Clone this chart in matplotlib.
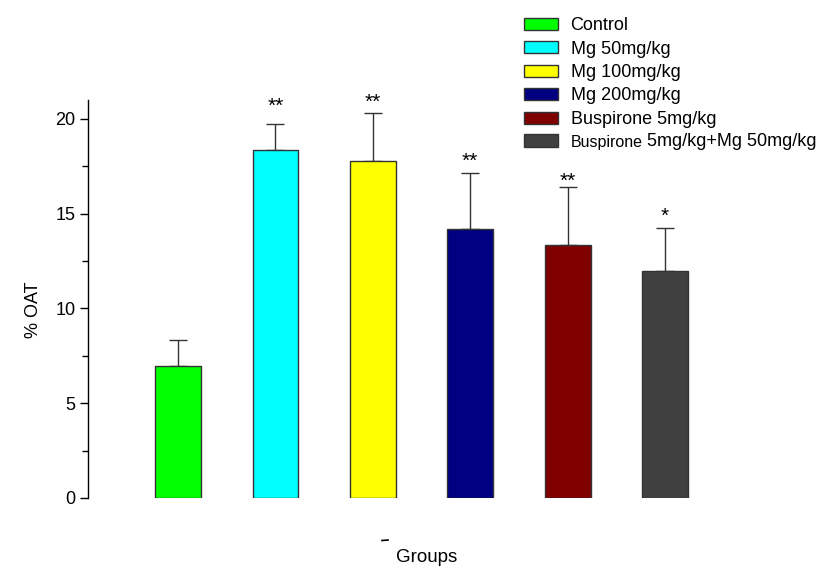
import matplotlib
matplotlib.use('Agg')
import matplotlib.pyplot as plt
from matplotlib.patches import Patch
from matplotlib.lines import Line2D
from matplotlib.ticker import MultipleLocator

plt.rcParams['font.family'] = ['Liberation Sans', 'DejaVu Sans']

groups = ["Control", "Mg 50mg/kg", "Mg 100mg/kg", "Mg 200mg/kg",
          "Buspirone 5mg/kg", "Buspirone 5mg/kg+Mg 50mg/kg"]
means = [6.95, 18.35, 17.8, 14.2, 13.35, 12.0]
sems = [1.4, 1.37, 2.5, 2.93, 3.04, 2.22]
stars = ["", "**", "**", "**", "**", "*"]
star_y = [None, 20.35, 20.58, 17.5, 16.4, 14.55]
colors = ["#00ff00", "#00ffff", "#ffff00", "#000080", "#800000", "#404040"]

W, H = 816, 566
fig = plt.figure(figsize=(W / 100, H / 100), dpi=100)
ax = fig.add_axes([88 / W, 68 / H, (760 - 88) / W, (498 - 100) / H])

x = list(range(len(groups)))
ax.bar(x, means, width=0.47, color=colors, edgecolor='#333333', linewidth=1, zorder=3)
ax.errorbar(x, means, yerr=[[0] * len(sems), sems], fmt='none', ecolor='#333333',
            elinewidth=1, capsize=6.8, capthick=1, zorder=2)

for i, s in enumerate(stars):
    if s:
        ax.text(i, star_y[i], s, ha='center', va='baseline', fontsize=15, clip_on=False)

ax.set_xlim(-0.924, 5.975)
ax.set_ylim(0, 21)
ax.yaxis.set_major_locator(MultipleLocator(5))
ax.yaxis.set_minor_locator(MultipleLocator(2.5))
for sp in ['top', 'right', 'bottom']:
    ax.spines[sp].set_visible(False)
ax.spines['left'].set_linewidth(1)
ax.tick_params(axis='y', which='major', direction='out', length=6, width=1, labelsize=13, pad=3)
ax.tick_params(axis='y', which='minor', direction='out', length=4, width=1)
ax.set_xticks([])

fig.text(33 / W, 1 - 310 / H, '% OAT', rotation=90, ha='center', va='center', fontsize=13)
fig.text(427 / W, 1 - 557 / H, 'Groups', ha='center', va='center', fontsize=13.5)
fig.add_artist(Line2D([382 / W, 388 / W], [1 - 540.5 / H, 1 - 540 / H], color='black', lw=1.2))

handles = [Patch(facecolor=c, edgecolor='#333333', linewidth=1) for c in colors]
labels = groups[:-1] + ["Buspirone"]
leg = fig.legend(handles, labels, loc='upper left', bbox_to_anchor=(524 / W, 1 - 17 / H),
                 frameon=False, fontsize=13, handlelength=1.88, handleheight=0.66,
                 handletextpad=0.7, labelspacing=0.36, borderpad=0, borderaxespad=0)
leg.get_texts()[-1].set_fontsize(11.5)

fig.canvas.draw()
r = fig.canvas.get_renderer()
bb = leg.get_texts()[-1].get_window_extent(r)
fig.text((bb.x1 + 4) / W, bb.y0 / H, "5mg/kg+Mg 50mg/kg", ha='left', va='bottom', fontsize=13)

fig.savefig('out.png', dpi=100)
